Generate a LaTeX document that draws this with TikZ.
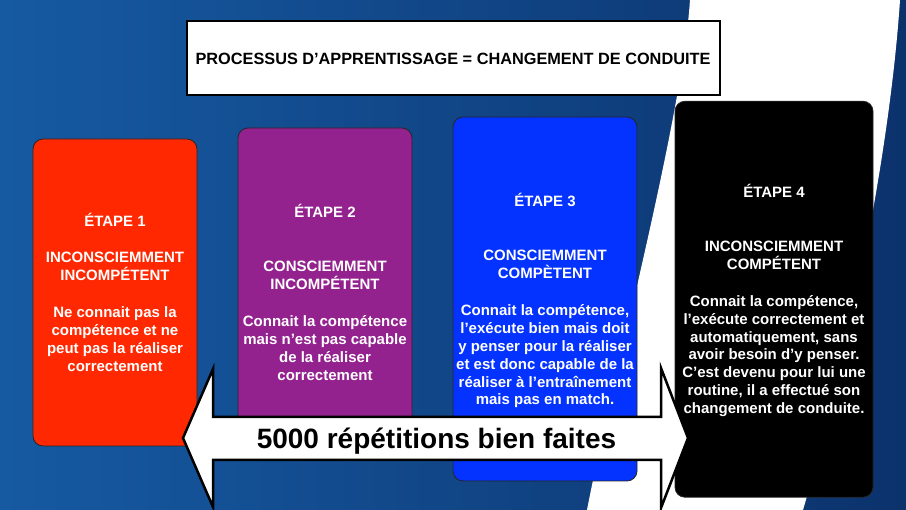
\documentclass[tikz,border=0pt]{standalone}
\usepackage{fontspec}
\setmainfont{Liberation Sans}
\definecolor{bgL}{RGB}{22,90,162}
\definecolor{bgR}{RGB}{12,50,108}
\definecolor{stepred}{RGB}{255,40,0}
\definecolor{steppurple}{RGB}{147,34,143}
\definecolor{stepblue}{RGB}{4,51,255}
\tikzset{
  stepbox/.style={draw=black!85, line width=0.8pt, rounded corners=10pt, inner sep=0pt},
  boxtxt/.style={anchor=base, text=white, inner sep=0pt, font=\bfseries\fontsize{15}{18}\selectfont},
  bigarrow/.style={draw=black, fill=white, line width=2.5pt, line join=miter},
}
\begin{document}
\begin{tikzpicture}[x=1pt,y=-1pt]
\useasboundingbox (0,0) rectangle (906,510);
\shade[left color=bgL, right color=bgR] (0,0) rectangle (906,510);
\fill[white] (690,0) .. controls (682,120) and (612,380) .. (587,510) -- (803,510) .. controls (850,350) and (890,150) .. (900,0) -- cycle;

% title
\node[draw=black, line width=1.6pt, fill=white, minimum width=533pt, minimum height=74pt, inner sep=0pt] (title) at (453.5,58) {};
\node[anchor=base, inner sep=0pt, font=\bfseries\fontsize{16.3}{19}\selectfont] (titletxt) at (453,64.5) {PROCESSUS D’APPRENTISSAGE = CHANGEMENT DE CONDUITE};

% boxes
\node[stepbox, fill=stepred, minimum width=164pt, minimum height=307pt] (b1) at (115,292.5) {};
\node[stepbox, fill=steppurple, minimum width=174pt, minimum height=302pt] (b2) at (325,279) {};
\node[stepbox, fill=stepblue, minimum width=184pt, minimum height=364pt] (b3) at (545,299) {};
\node[stepbox, fill=black, minimum width=198pt, minimum height=396pt] (b4) at (774,299.25) {};

\foreach \t/\y [count=\i] in {{ÉTAPE 1}/227, INCONSCIEMMENT/263, INCOMPÉTENT/281, {Ne connait pas la}/317.5, {compétence et ne}/335.5, {peut pas la réaliser}/353.5, correctement/371.5}
  \node[boxtxt] (ta\i) at (115,\y) {\t};

\foreach \t/\y [count=\i] in {{ÉTAPE 2}/217.5, CONSCIEMMENT/272, INCOMPÉTENT/290, {Connait la compétence}/326.5, {mais n’est pas capable}/344.5, {de la réaliser}/362.5, correctement/380.5}
  \node[boxtxt] (tb\i) at (325,\y) {\t};

\foreach \t/\y [count=\i] in {{ÉTAPE 3}/207, CONSCIEMMENT/261, COMPÈTENT/279, {Connait la compétence,}/315.5, {l’exécute bien mais doit}/333.4, {y penser pour la réaliser}/351.3, {et est donc capable de la}/369.2, {réaliser à l’entraînement}/387.1, {mais pas en match.}/405}
  \node[boxtxt] (tc\i) at (545,\y) {\t};

\foreach \t/\y [count=\i] in {{ÉTAPE 4}/197.5, INCONSCIEMMENT/252, COMPÉTENT/270, {Connait la compétence,}/306.5, {l’exécute correctement et}/324.3, {automatiquement, sans}/342.1, {avoir besoin d’y penser.}/359.9, {C’est devenu pour lui une}/377.7, {routine, il a effectué son}/395.5, {changement de conduite.}/413.3}
  \node[boxtxt] (td\i) at (774,\y) {\t};

% double arrow
\draw[bigarrow] (183,438) -- (213,369) -- (213,417) -- (661,417) -- (661,368) -- (688,438) -- (661,508) -- (661,460) -- (213,460) -- (213,507) -- cycle;
\node[anchor=base, inner sep=0pt, font=\bfseries\fontsize{28}{34}\selectfont] (arrowtxt) at (436.5,449) {5000 répétitions bien faites};
\end{tikzpicture}
\end{document}
